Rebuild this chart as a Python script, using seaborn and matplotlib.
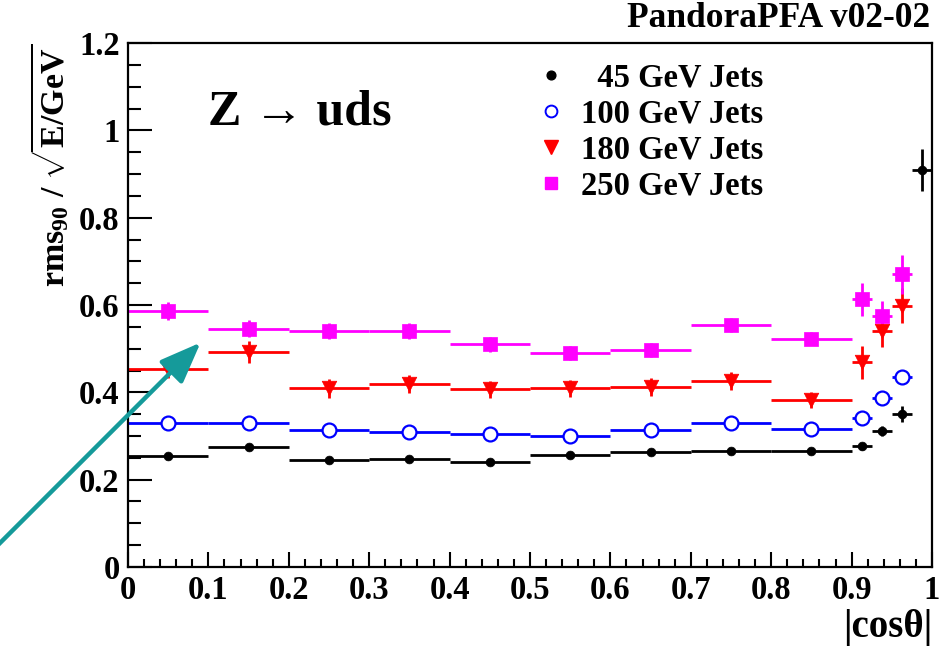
import numpy as np
import pandas as pd
import matplotlib
matplotlib.use("Agg")
import matplotlib.pyplot as plt
from matplotlib.patches import FancyArrowPatch
from matplotlib.lines import Line2D
from matplotlib.ticker import MultipleLocator, FuncFormatter
import seaborn as sns

# ---- data ----
x_centers = [0.05, 0.15, 0.25, 0.35, 0.45, 0.55, 0.65, 0.75, 0.85, 0.9125, 0.9375, 0.9625]
x_halfwidth = [0.05] * 9 + [0.0125] * 3

jets45 = [0.254, 0.274, 0.244, 0.247, 0.241, 0.256, 0.263, 0.266, 0.266, 0.277, 0.312, 0.350, 0.909]
jets45_err = [0.005, 0.005, 0.005, 0.005, 0.005, 0.005, 0.005, 0.005, 0.005, 0.008, 0.012, 0.018, 0.048]
jets45_x = x_centers + [0.9875]
jets45_xw = x_halfwidth + [0.0125]

jets100 = [0.330, 0.330, 0.313, 0.310, 0.304, 0.300, 0.313, 0.330, 0.316, 0.341, 0.387, 0.434]
jets100_err = [0.006, 0.006, 0.006, 0.006, 0.006, 0.006, 0.006, 0.006, 0.006, 0.012, 0.014, 0.016]

jets180 = [0.454, 0.493, 0.409, 0.419, 0.407, 0.409, 0.412, 0.426, 0.382, 0.469, 0.541, 0.598]
jets180_err = [0.022, 0.025, 0.021, 0.020, 0.020, 0.020, 0.020, 0.020, 0.018, 0.038, 0.038, 0.040]

jets250 = [0.586, 0.546, 0.540, 0.540, 0.510, 0.489, 0.498, 0.554, 0.523, 0.613, 0.575, 0.670]
jets250_err = [0.020, 0.020, 0.018, 0.018, 0.017, 0.016, 0.016, 0.016, 0.015, 0.038, 0.035, 0.045]

labels = ["  45 GeV Jets", "100 GeV Jets", "180 GeV Jets", "250 GeV Jets"]
colors = ["black", "#0000ff", "#ff0000", "#ff00ff"]

sns.set_style("ticks")
plt.rcParams["font.family"] = ["Liberation Serif", "DejaVu Serif"]
plt.rcParams["font.weight"] = "bold"
plt.rcParams["mathtext.fontset"] = "custom"
plt.rcParams["mathtext.rm"] = "Liberation Serif:bold"
plt.rcParams["mathtext.bf"] = "Liberation Serif:bold"
plt.rcParams["mathtext.it"] = "Liberation Serif:bold:italic"
plt.rcParams["axes.linewidth"] = 1.6
for k in ["text.color", "axes.labelcolor", "xtick.color", "ytick.color", "axes.edgecolor"]:
    plt.rcParams[k] = "black"

fig = plt.figure(figsize=(9.51, 6.5), dpi=100)
ax = fig.add_axes([0.1346, 0.1277, 0.980 - 0.1346, 0.9338 - 0.1277])

series = [
    (jets45_x, jets45, jets45_err, jets45_xw),
    (x_centers, jets100, jets100_err, x_halfwidth),
    (x_centers, jets180, jets180_err, x_halfwidth),
    (x_centers, jets250, jets250_err, x_halfwidth),
]

rows = []
for lab, (xs, ys, es, ws) in zip(labels, series):
    for xv, yv in zip(xs, ys):
        rows.append({"x": xv, "y": yv, "sample": lab})
df = pd.DataFrame(rows)

for (xs, ys, es, ws), c in zip(series, colors):
    ax.errorbar(xs, ys, yerr=es, xerr=ws, fmt="none", ecolor=c, elinewidth=2.0, capsize=0, zorder=2)

markers = {labels[0]: "o", labels[1]: "o", labels[2]: "v", labels[3]: "s"}
sizes = {labels[0]: 40, labels[1]: 100, labels[2]: 110, labels[3]: 95}
for lab, c in zip(labels, colors):
    sub = df[df["sample"] == lab]
    if lab == labels[1]:
        sns.scatterplot(data=sub, x="x", y="y", ax=ax, marker="o", s=sizes[lab],
                        facecolor="white", edgecolor=c, linewidth=1.6, zorder=3, legend=False)
    else:
        sns.scatterplot(data=sub, x="x", y="y", ax=ax, marker=markers[lab], s=sizes[lab],
                        color=c, edgecolor=c, linewidth=0.5, zorder=3, legend=False)

ax.set_xlim(0, 1)
ax.set_ylim(0, 1.2)
ax.xaxis.set_major_locator(MultipleLocator(0.1))
ax.xaxis.set_minor_locator(MultipleLocator(0.02))
ax.yaxis.set_major_locator(MultipleLocator(0.2))
ax.yaxis.set_minor_locator(MultipleLocator(0.05))
fmt = FuncFormatter(lambda v, p: f"{v:.1f}".rstrip("0").rstrip(".") if abs(v) > 1e-9 else "0")
ax.xaxis.set_major_formatter(fmt)
ax.yaxis.set_major_formatter(fmt)
ax.tick_params(axis="x", which="major", direction="in", length=11, width=1.5, labelsize=23.5, pad=6)
ax.tick_params(axis="x", which="minor", direction="in", length=6, width=1.5)
ax.tick_params(axis="y", which="major", direction="in", length=17, width=1.5, labelsize=23.5, pad=6)
ax.tick_params(axis="y", which="minor", direction="in", length=9, width=1.5)
for lab in ax.get_xticklabels() + ax.get_yticklabels():
    lab.set_fontweight("bold")

ax.set_xlabel("|cosθ|", fontsize=28, fontweight="bold", loc="right", labelpad=2)
ax.set_ylabel(r"$\mathrm{rms}_{90}$ / $\sqrt{\mathrm{E/GeV}}$", fontsize=24.5, fontweight="bold",
              loc="top", labelpad=6)

ax.text(0.10, 1.04, "Z → uds", fontsize=36, fontweight="bold", va="center", ha="left",
        transform=ax.transData)
fig.text(0.978, 0.972, "PandoraPFA v02-02", fontsize=25.5, fontweight="bold", ha="right", va="center")

handles = [
    Line2D([], [], linestyle="none", marker="o", markersize=6.3, color="black"),
    Line2D([], [], linestyle="none", marker="o", markersize=8.5, markerfacecolor="white",
           markeredgecolor="#0000ff", markeredgewidth=1.4),
    Line2D([], [], linestyle="none", marker="v", markersize=10, color="#ff0000"),
    Line2D([], [], linestyle="none", marker="s", markersize=8.5, color="#ff00ff"),
]
ax.legend(handles, labels, loc="upper left", bbox_to_anchor=(0.562, 0.904), bbox_transform=fig.transFigure,
          frameon=False, prop={"weight": "bold", "size": 23.5}, handletextpad=0.42,
          labelspacing=0.15, handlelength=1.0, borderaxespad=0, borderpad=0)

arrow = FancyArrowPatch((-0.01, 0.15), (0.213, 0.476), transform=fig.transFigure,
                        arrowstyle="-|>,head_length=1.4,head_width=0.55", mutation_scale=18,
                        color="#159a9a", lw=3.2)
fig.add_artist(arrow)

fig.savefig("out.png", dpi=100)
